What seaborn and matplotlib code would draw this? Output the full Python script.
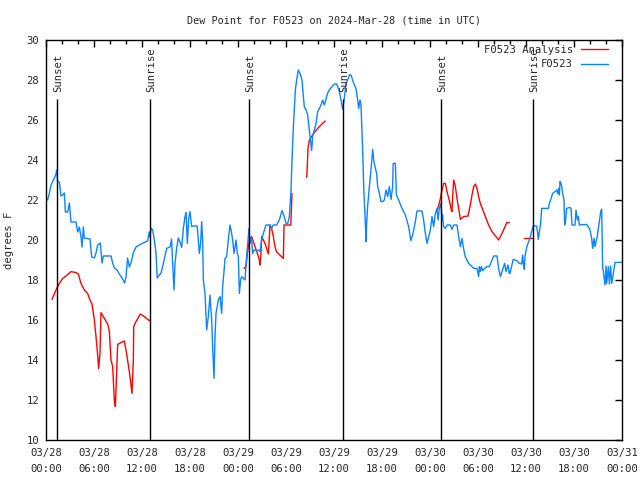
import matplotlib
matplotlib.use('Agg')
import matplotlib.pyplot as plt
import pandas as pd
import seaborn as sns
import numpy as np

# hours since 2024-03-28 00:00 UTC
obs_hours = [0.2, 0.4, 0.6, 0.8, 1.05, 1.25, 1.33, 1.46, 1.67, 1.875, 2.08, 2.29, 2.42, 2.71, 2.92,
             3.125, 3.75, 3.96, 4.17, 4.375, 4.5, 4.67, 4.79, 5.5, 5.71, 6.04, 6.25, 6.46, 6.79, 7.0,
             7.17, 8.125, 8.33, 8.54, 8.875, 9.17, 9.58, 9.83, 10.0, 10.2, 10.42, 10.625, 10.9, 11.25,
             11.875, 12.7, 12.9, 13.0, 13.125, 13.33, 13.54, 13.75, 13.9, 14.375, 14.67, 15.08, 15.5,
             15.7, 15.83, 16.0, 16.125, 16.33, 16.54, 16.75, 16.96, 17.17, 17.375, 17.5, 17.67, 17.83,
             18.0, 18.2, 18.4, 18.9, 19.04, 19.17, 19.33, 19.46, 19.58, 19.67, 19.875, 20.08, 20.29,
             20.5, 20.71, 20.83, 21.0, 21.125, 21.25, 21.54, 21.75, 21.96, 22.08, 22.25, 22.375, 22.58,
             22.79, 23.0, 23.17, 23.33, 23.5, 23.75, 23.92, 24.04, 24.17, 24.33, 24.46, 24.875, 25.08,
             25.29, 25.375, 25.5, 25.7, 25.83, 26.0, 26.33, 26.54, 26.75, 26.96, 27.17, 27.375, 27.5,
             28.0, 28.2, 28.4, 28.83, 29.17, 29.5, 29.79, 30.0, 30.2, 30.42, 30.625, 30.75, 30.92,
             31.17, 31.33, 31.54, 31.75, 32.0, 32.17, 32.29, 32.5, 32.71, 32.92, 33.04, 33.2, 33.33,
             33.54, 33.75, 33.96, 34.17, 34.375, 34.58, 34.79, 34.92, 35.08, 35.2, 35.4, 35.75, 36.04,
             36.33, 36.46, 36.67, 36.875, 37.08, 37.29, 37.5, 37.71, 37.92, 38.125, 38.33, 38.54,
             38.75, 38.96, 39.08, 39.25, 39.375, 39.58, 39.71, 39.92, 40.0, 40.08, 40.2, 40.42,
             40.625, 40.83, 40.96, 41.125, 41.33, 41.46, 41.67, 41.875, 42.08, 42.29, 42.5, 42.71,
             42.92, 43.125, 43.33, 43.4, 43.46, 43.67, 43.8, 44.08, 44.5, 44.92, 45.33, 45.6, 45.83,
             46.17, 46.375, 47.0, 47.2, 47.42, 47.625, 47.83, 48.04, 48.25, 48.46, 48.67, 48.875, 49.0,
             49.17, 49.375, 49.5, 49.58, 49.7, 49.92, 50.125, 50.54, 50.75, 50.96, 51.375, 51.58,
             51.8, 52.0, 52.2, 52.4, 52.625, 52.83, 53.04, 53.46, 53.875, 54.08, 54.17, 54.29, 54.42,
             54.58, 54.83, 55.125, 55.42, 55.67, 55.96, 56.375, 56.58, 56.8, 57.0, 57.33, 57.5, 57.75,
             57.9, 58.0, 58.2, 58.4, 58.83, 59.17, 59.46, 59.58, 59.67, 59.8, 59.875, 60.0, 60.17,
             60.42, 60.7, 60.9, 61.33, 61.46, 61.54, 61.67, 61.83, 61.96, 62.8, 62.92, 63.08, 63.33,
             63.625, 63.83, 63.96, 64.08, 64.17, 64.25, 64.375, 64.46, 64.58, 64.75, 64.83, 64.96,
             65.08, 65.5, 65.625, 65.75, 66.125, 66.25, 66.33, 66.42, 66.54, 66.67, 67.58, 67.79,
             68.0, 68.21, 68.33, 68.5, 68.625, 68.75, 68.92, 69.04, 69.17, 69.33, 69.46, 69.58, 69.75,
             69.875, 70.0, 70.08, 70.29, 70.42, 70.58, 70.71, 70.92, 71.125, 71.96]
obs_dewpt = [22.0, 22.3, 22.7, 22.9, 23.1, 23.3, 23.5, 22.9, 22.9, 22.2, 22.25, 22.35, 21.4, 21.4, 21.85,
             20.9, 20.9, 20.4, 20.65, 20.15, 19.65, 20.65, 20.1, 20.05, 19.15, 19.1, 19.35, 19.75, 19.85, 18.85,
             19.2, 19.2, 18.85, 18.6, 18.5, 18.3, 18.05, 17.85, 18.15, 19.1, 18.65, 18.85, 19.35, 19.65,
             19.8, 19.95, 20.4, 20.15, 20.6, 20.5, 20.0, 19.35, 18.1, 18.35, 18.83, 19.58, 19.65,
             20.05, 18.83, 17.5, 18.83, 19.58, 20.1, 19.9, 19.63, 20.58, 21.17, 21.37, 19.83, 21.08,
             21.42, 20.67, 20.7, 20.7, 20.0, 19.33, 19.83, 20.92, 20.0, 18.0, 17.33, 15.5, 16.17,
             17.25, 16.0, 14.67, 13.08, 15.17, 16.33, 17.0, 17.17, 16.33, 17.67, 18.42, 19.08, 19.17,
             20.0, 20.75, 20.42, 20.0, 19.33, 20.0, 19.33, 19.17, 17.33, 18.0, 18.17, 18.0, 19.17,
             20.17, 20.58, 19.83, 20.08, 19.33, 19.5, 19.47, 19.5, 19.42, 20.0, 20.33, 20.58, 20.75,
             20.75, 20.58, 20.75, 20.75, 21.0, 21.47, 21.17, 20.83, 20.8, 21.17, 22.5, 24.0, 25.67,
             27.5, 28.0, 28.5, 28.33, 28.0, 27.17, 26.67, 26.5, 26.25, 25.5, 25.08, 24.47, 25.17,
             25.5, 25.83, 26.42, 26.58, 26.75, 27.0, 26.75, 26.92, 27.17, 27.33, 27.5, 27.67, 27.8,
             27.8, 27.67, 27.42, 27.0, 26.53, 27.08, 27.83, 28.0, 28.25, 28.25, 28.0, 27.75,
             27.58, 27.0, 26.58, 27.0, 26.75, 24.5, 22.67, 20.83, 19.92, 20.83, 21.67, 22.67,
             23.5, 24.53, 24.0, 23.67, 23.33, 22.67, 22.33, 21.92, 21.92, 22.0, 22.5, 22.17,
             22.67, 22.03, 22.67, 23.83, 23.83, 23.83, 22.25, 22.0, 21.58, 21.25, 20.67, 19.97, 20.25,
             20.92, 21.45, 21.45, 21.0, 20.33, 19.83, 20.17, 20.5, 21.17, 20.67, 21.33, 21.58, 21.0,
             21.58, 21.83, 21.0, 21.25, 20.67, 20.58, 20.75, 20.75, 20.53, 20.75, 20.75, 20.17,
             19.67, 20.08, 19.58, 19.17, 19.0, 18.83, 18.75, 18.58, 18.58, 18.17, 18.67, 18.42, 18.67,
             18.47, 18.58, 18.67, 18.67, 18.92, 19.2, 19.2, 18.58, 18.17, 18.42, 18.83, 18.42, 18.75,
             18.33, 18.33, 18.67, 19.03, 18.97, 18.83, 18.8, 19.25, 18.83, 18.53, 19.17, 19.47, 19.75,
             20.0, 20.42, 20.7, 20.7, 20.33, 20.03, 20.42, 20.83, 21.58, 21.58, 21.83, 22.0, 22.33,
             22.42, 22.5, 22.33, 22.58, 22.25, 22.92, 22.83, 22.67, 22.33, 22.0, 20.75, 21.0,
             21.58, 21.63, 21.58, 20.75, 20.75, 21.5, 21.25, 21.0, 21.17, 20.75, 20.78, 20.67,
             20.5, 20.08, 19.58, 20.08, 19.67, 19.92, 20.2, 20.58, 20.92, 21.42, 21.53, 18.67, 18.17,
             17.75, 18.7, 17.83, 18.67, 17.8, 18.7, 17.83, 18.33, 18.88, 18.88]

# analysis series, NaN marks a break in the line
ana_hours = [0.75, 1.25, 1.67, 2.08, 2.5, 3.125, 3.75, 4.04, 4.375, 4.79, 5.2, 5.5, 5.75, 6.04, 6.25,
             6.46, 6.58, 6.75, 6.875, 7.29, 7.71, 7.92, 8.125, 8.33, 8.54, 8.67, 8.75, 8.96, 9.375,
             9.79, 10.0, 10.2, 10.5, 10.75, 10.92, 10.96, 11.25, 11.8, 12.29, 12.9, 13.0, np.nan,
             24.75, 25.0, 25.17, 25.42, 25.7, 25.92, 26.125, 26.42, 26.67, 26.75, 26.875, 26.96,
             27.17, 27.375, 27.58, 27.8, 27.92, 28.0, 28.2, 28.42, 28.625, 28.8, 29.1, 29.67, 29.75,
             30.6, 30.75, np.nan,
             32.6, 32.75, 32.92, 33.25, 33.54, 33.96, 34.375, 34.9, np.nan,
             48.9, 49.1, 49.3, 49.5, 49.7, 49.92, 50.125, 50.4, 50.67, 50.75, 50.83, 50.96, 51.17,
             51.375, 51.58, 51.8, 52.2, 52.75, 53.04, 53.25, 53.46, 53.67, 53.875, 54.08, 54.29,
             54.58, 54.92, 55.33, 55.75, 56.25, 56.58, 57.0, 57.42, 57.6, 57.92, np.nan,
             59.75, 60.9]
ana_dewpt = [17.03, 17.5, 17.83, 18.08, 18.2, 18.42, 18.37, 18.3, 17.83, 17.5, 17.33, 17.0, 16.8, 16.0, 15.17,
             14.25, 13.58, 14.33, 16.37, 16.08, 15.8, 15.42, 14.0, 13.67, 12.0, 11.67, 12.5, 14.78, 14.87,
             14.95, 14.5, 14.0, 13.17, 12.33, 14.0, 15.67, 15.92, 16.3, 16.17, 15.97, 16.0, np.nan,
             18.58, 18.67, 19.33, 20.0, 20.17, 19.92, 19.67, 19.33, 19.0, 18.75, 19.33, 20.17,
             20.0, 19.83, 19.58, 19.3, 20.17, 20.75, 20.58, 20.17, 19.67, 19.42, 19.3, 19.08, 20.75,
             20.75, 22.33, np.nan,
             23.13, 24.58, 25.0, 25.2, 25.37, 25.58, 25.75, 25.95, np.nan,
             21.5, 21.75, 22.08, 22.5, 22.83, 22.83, 22.42, 22.0, 21.5, 21.42, 22.17, 23.0, 22.67,
             22.08, 21.58, 21.03, 21.17, 21.2, 21.75, 22.25, 22.67, 22.8, 22.58, 22.17, 21.83,
             21.53, 21.17, 20.75, 20.42, 20.17, 20.0, 20.33, 20.7, 20.87, 20.87, np.nan,
             20.08, 20.08]

event_hours = [1.42, 13.04, 25.42, 37.08, 49.42, 60.92]
event_names = ['Sunset', 'Sunrise', 'Sunset', 'Sunrise', 'Sunset', 'Sunrise']

xtick_labels = ['03/28\n00:00', '03/28\n06:00', '03/28\n12:00', '03/28\n18:00',
                '03/29\n00:00', '03/29\n06:00', '03/29\n12:00', '03/29\n18:00',
                '03/30\n00:00', '03/30\n06:00', '03/30\n12:00', '03/30\n18:00',
                '03/31\n00:00']

obs = pd.DataFrame({'hour': obs_hours, 'dewpt': obs_dewpt})
ana = pd.DataFrame({'hour': ana_hours, 'dewpt': ana_dewpt})
ana['seg'] = ana['hour'].isna().cumsum()
ana = ana.dropna()

sns.set_style('white')
plt.rcParams['font.family'] = ['DejaVu Sans Mono']
fs = 7.3
plt.rcParams['font.size'] = fs

fig = plt.figure(figsize=(6.4, 4.8), dpi=100)
ax = fig.add_axes([46 / 640, 40 / 480, 576 / 640, 400 / 480])

red = '#ff0000'
blue = '#0a84ff'
sns.lineplot(data=ana, x='hour', y='dewpt', units='seg', estimator=None, sort=False,
             color=red, lw=1.0, ax=ax)
sns.lineplot(data=obs, x='hour', y='dewpt', estimator=None, sort=False,
             color=blue, lw=1.0, ax=ax)

for h, name in zip(event_hours, event_names):
    ax.vlines(h, 10, 27.05, color='black', lw=1.0)
    ax.text(h + 0.15, 27.4, name, rotation=90, ha='center', va='bottom', fontsize=fs + 0.3)

ax.set_xlim(0, 72)
ax.set_ylim(10, 30)
ax.set_xticks(np.arange(0, 73, 6))
ax.set_xticklabels(xtick_labels, linespacing=1.75)
ax.set_xticks(np.arange(0, 73, 2), minor=True)
ax.set_yticks(np.arange(10, 31, 2))
ax.tick_params(which='both', direction='in', top=True, right=True, color='black',
               labelsize=fs + 0.3)
ax.tick_params(which='major', length=5, width=1, pad=6)
ax.tick_params(which='minor', length=3, width=1)
ax.tick_params(axis='y', which='major', pad=5)
ax.set_xlabel('')
ax.set_ylabel('degrees F', labelpad=9, fontsize=fs + 0.3)
for s in ax.spines.values():
    s.set_color('black')
    s.set_linewidth(1.0)

ax.set_title('Dew Point for F0523 on 2024-Mar-28 (time in UTC)', fontsize=fs, pad=12)

handles = [plt.Line2D([], [], color=red, lw=1.0), plt.Line2D([], [], color=blue, lw=1.0)]
ax.legend(handles, ['F0523 Analysis', 'F0523'], loc='upper right', markerfirst=False,
          frameon=False, fontsize=fs + 0.3, handlelength=2.6, handletextpad=0.75,
          labelspacing=0.4, borderaxespad=0.2, bbox_to_anchor=(0.987, 1.003))

fig.savefig('out.png', dpi=100)
